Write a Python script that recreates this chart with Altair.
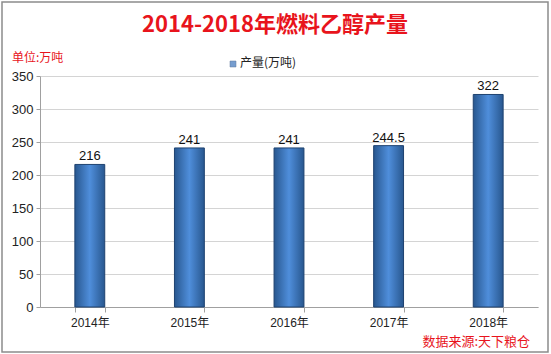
import altair as alt
import pandas as pd

years = ["2014年", "2015年", "2016年", "2017年", "2018年"]
values = [216, 241, 241, 244.5, 322]
labels = ["216", "241", "241", "244.5", "322"]

df = pd.DataFrame({"year": years, "value": values, "label": labels})

FONT = "Liberation Sans, Noto Sans CJK SC, sans-serif"
CJK = "Noto Sans CJK SC, sans-serif"

xscale = alt.Scale(paddingInner=0.7, paddingOuter=0.35)
yscale = alt.Scale(domain=[0, 350])
xaxis = alt.Axis(title=None, labelAngle=0, ticks=True, tickBand="extent", tickSize=5,
                 tickColor="#a0a0a0", labelFontSize=12, labelFont=FONT,
                 labelColor="#222", labelPadding=5, domainColor="#a0a0a0", grid=False)
yaxis = alt.Axis(title=None, values=list(range(0, 351, 50)), labelFontSize=13,
                 labelFont=FONT, labelColor="#222", tickColor="#a0a0a0",
                 tickSize=4, domainColor="#a0a0a0", gridColor="#d4d4d4",
                 labelPadding=3)

base = alt.Chart(df)

bars = base.mark_bar(
    color=alt.Gradient(
        gradient="linear",
        stops=[
            alt.GradientStop(color="#28578f", offset=0),
            alt.GradientStop(color="#4f8edb", offset=0.5),
            alt.GradientStop(color="#28578f", offset=1),
        ],
        x1=0, x2=1, y1=0, y2=0,
    ),
    stroke="#1e4270",
    strokeWidth=1,
).encode(
    x=alt.X("year:N", sort=years, scale=xscale, axis=xaxis),
    y=alt.Y("value:Q", scale=yscale, axis=yaxis),
)

text = base.mark_text(dy=-8, fontSize=13, font=FONT, color="#111").encode(
    x=alt.X("year:N", sort=years, scale=xscale, axis=xaxis),
    y=alt.Y("value:Q", scale=yscale, axis=yaxis),
    text="label:N",
)

ann = pd.DataFrame({"d": [0]})
abase = alt.Chart(ann)

title = abase.mark_text(text="2014-2018年燃料乙醇产量", font=CJK, fontSize=22,
                        fontWeight="bold", color="#e8141c", align="center",
                        baseline="middle").encode(x=alt.value(235), y=alt.value(-51))
unit = abase.mark_text(text="单位:万吨", font=CJK, fontSize=12, color="#e8141c",
                       align="left", baseline="middle").encode(x=alt.value(-28), y=alt.value(-18))
leg_sym = abase.mark_point(shape="square", filled=True, size=36, color="#3d74bc",
                           stroke="#1e4270", strokeWidth=0.5).encode(
    x=alt.value(193), y=alt.value(-12))
leg_txt = abase.mark_text(text="产量(万吨)", font=CJK, fontSize=12, color="#222",
                          align="left", baseline="middle").encode(x=alt.value(200), y=alt.value(-13))
source = abase.mark_text(text="数据来源:天下粮仓", font=CJK, fontSize=13, color="#e8141c",
                         align="right", baseline="middle").encode(x=alt.value(490), y=alt.value(266))
frame = abase.mark_rect(fill=None, stroke="#8c8c8c", strokeWidth=1.5).encode(
    x=alt.value(-38), x2=alt.value(508), y=alt.value(-74), y2=alt.value(276))

chart = alt.layer(bars, text, title, unit, leg_sym, leg_txt, source, frame).properties(
    width=498, height=231,
    autosize=alt.AutoSizeParams(type="none"),
    padding={"left": 40, "top": 76, "right": 13, "bottom": 47},
    background="white",
).configure_view(stroke=None)

chart.save("out.html", embed_options={"renderer": "svg", "actions": False})
